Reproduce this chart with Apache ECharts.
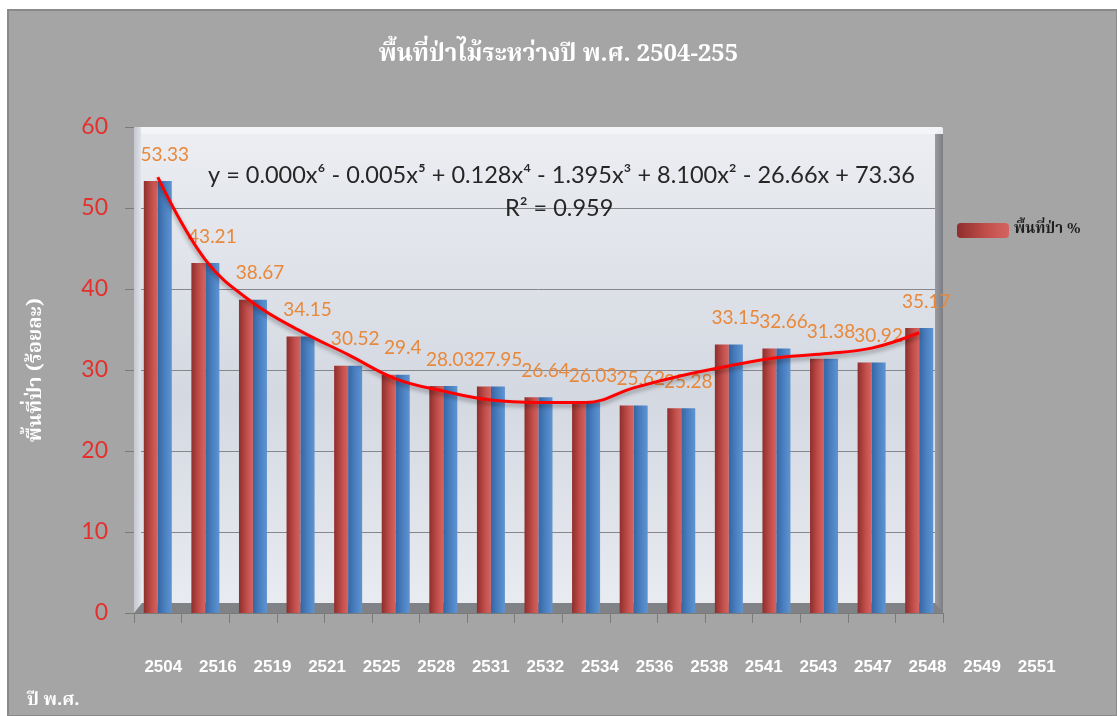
<!DOCTYPE html>
<html>
<head>
<meta charset="utf-8">
<script src="https://cdn.jsdelivr.net/npm/echarts@6/dist/echarts.min.js"></script>
<style>
  html, body { margin: 0; padding: 0; background: #ffffff; }
  #chart { width: 1117px; height: 716px; }
</style>
</head>
<body>
<div id="chart"></div>
<script>
// Forest area (% of country) by Buddhist-era year
const years = ['2504', '2516', '2519', '2521', '2525', '2528', '2531', '2532', '2534',
               '2536', '2538', '2541', '2543', '2547', '2548', '2549', '2551'];
const forestPct = [53.33, 43.21, 38.67, 34.15, 30.52, 29.4, 28.03, 27.95, 26.64,
                   26.03, 25.62, 25.28, 33.15, 32.66, 31.38, 30.92, 35.17];
// Polynomial trend line, read at each category
const trendPct = [53.8, 43.6, 38.3, 34.8, 31.9, 28.9, 27.4, 26.3, 26.0,
                  26.0, 27.8, 29.3, 30.5, 31.5, 32.0, 32.7, 34.6];
const yTicks = { min: 0, max: 60, interval: 10 };

const titleText = 'พื้นที่ป่าไม้ระหว่างปี พ.ศ. 2504-255';
const seriesName = 'พื้นที่ป่า %';
const yName = 'พื้นที่ป่า (ร้อยละ)';
const xName = 'ปี พ.ศ.';

const thaiFont = '"Noto Serif Thai", "Noto Sans Thai", "DejaVu Serif", serif';
const numFont = 'Lato, "Open Sans", sans-serif';

const chart = echarts.init(document.getElementById('chart'), null, { renderer: 'canvas' });

const redFace = new echarts.graphic.LinearGradient(0, 0, 1, 0, [
  { offset: 0, color: '#8e2e2c' }, { offset: 0.6, color: '#c4504c' }, { offset: 1, color: '#d46460' }
]);
const blueFace = new echarts.graphic.LinearGradient(0, 0, 1, 0, [
  { offset: 0, color: '#3566a4' }, { offset: 0.6, color: '#4f84c4' }, { offset: 1, color: '#5f94d2' }
]);

chart.setOption({
  backgroundColor: '#ffffff',
  animation: false,
  graphic: [
    // outer panel
    { type: 'rect', z: -100, shape: { x: 8, y: 10, width: 1109, height: 706 },
      style: { fill: '#a5a5a5', stroke: '#8a8a8a', lineWidth: 2 } },
    // right depth side of the wall
    { type: 'rect', z: 1, shape: { x: 935, y: 134, width: 8, height: 479 },
      style: { fill: new echarts.graphic.LinearGradient(0, 0, 1, 0, [
        { offset: 0, color: '#9a9ca2' }, { offset: 1, color: '#7c7e84' }]) } },
    // top bevel of the wall
    { type: 'polygon', z: 1, shape: { points: [[134, 127], [943, 127], [935, 134], [142, 134]] },
      style: { fill: '#f4f5f8' } },
    // left bevel of the wall
    { type: 'rect', z: 1, shape: { x: 134, y: 127, width: 7, height: 486 },
      style: { fill: new echarts.graphic.LinearGradient(0, 0, 1, 0, [
        { offset: 0, color: '#c4c7cd' }, { offset: 1, color: '#dfe2e8' }]) } },
    // floor
    { type: 'polygon', z: 1, shape: { points: [[134, 613], [943, 613], [935, 603], [142, 603]] },
      style: { fill: '#808285' } },
    // trend equation
    { type: 'text', z: 20, left: 208, top: 163,
      style: { text: 'y = 0.000x⁶ - 0.005x⁵ + 0.128x⁴ - 1.395x³ + 8.100x² - 26.66x + 73.36',
               font: '23.5px ' + numFont, fill: '#262626' } },
    { type: 'text', z: 20, left: 505, top: 196,
      style: { text: 'R² = 0.959', font: '23.5px ' + numFont, fill: '#262626' } },
    // x axis title
    { type: 'text', z: 20, left: 27, top: 693,
      style: { text: xName, font: 'bold 18px ' + thaiFont, fill: '#ffffff' } }
  ],
  title: {
    text: titleText,
    left: 'center',
    top: 40,
    textStyle: { color: '#ffffff', fontFamily: thaiFont, fontWeight: 'bold', fontSize: 24 }
  },
  legend: {
    data: [seriesName],
    left: 952,
    top: 218,
    itemWidth: 52,
    itemHeight: 15,
    itemGap: 6,
    textStyle: { color: '#1e1e1e', fontFamily: thaiFont, fontSize: 15, fontWeight: 'bold' }
  },
  grid: [
    { left: 134, right: 174, top: 127, bottom: 103, show: true, borderWidth: 0,
      backgroundColor: new echarts.graphic.LinearGradient(0, 0, 0, 1, [
        { offset: 0, color: '#eceef2' }, { offset: 0.55, color: '#d4d8e1' }, { offset: 1, color: '#e9ecf1' }]) },
    // year labels sit on a wider band below the floor
    { left: 136, right: 53, top: 127, bottom: 103 }
  ],
  xAxis: [
    { type: 'category', gridIndex: 0, data: years,
      axisLine: { show: true, lineStyle: { color: '#7a7a7a', width: 1 } },
      axisTick: { show: true, length: 10, lineStyle: { color: '#7a7a7a' } },
      axisLabel: { show: false } },
    { type: 'category', gridIndex: 1, data: years,
      axisLine: { show: false }, axisTick: { show: false },
      axisLabel: { show: true, margin: 46, color: '#ffffff', fontFamily: 'Liberation Sans, Arial, sans-serif',
                   fontWeight: 'bold', fontSize: 17, interval: 0 } }
  ],
  yAxis: [
    { type: 'value', gridIndex: 0, min: yTicks.min, max: yTicks.max, interval: yTicks.interval,
      name: yName, nameLocation: 'middle', nameGap: 86,
      nameTextStyle: { color: '#ffffff', fontFamily: thaiFont, fontWeight: 'bold', fontSize: 20 },
      axisLine: { show: false },
      axisTick: { show: true, length: 9, lineStyle: { color: '#7a7a7a' } },
      axisLabel: { color: '#e3302c', fontFamily: numFont, fontSize: 23, margin: 26 },
      splitLine: { show: true, lineStyle: { color: '#85878d', width: 1 } } },
    { type: 'value', gridIndex: 1, min: 0, max: 60, show: false }
  ],
  series: [
    { name: seriesName, type: 'bar', xAxisIndex: 0, yAxisIndex: 0, data: forestPct,
      barWidth: 14, barGap: '0%', z: 3,
      itemStyle: { color: redFace } },
    { name: 'side', type: 'bar', xAxisIndex: 0, yAxisIndex: 0, data: forestPct,
      barWidth: 14, barGap: '0%', z: 3,
      itemStyle: { color: blueFace },
      label: { show: true, position: 'top', distance: 5, offset: [0, -12],
               color: '#e8883a', fontFamily: numFont, fontSize: 19 } },
    { name: 'trend', type: 'line', xAxisIndex: 0, yAxisIndex: 0, data: trendPct,
      smooth: 0.4, symbol: 'none', z: 10,
      lineStyle: { color: '#ff0000', width: 3, shadowColor: 'rgba(0,0,0,0.35)', shadowBlur: 4, shadowOffsetY: 3 } }
  ]
});
</script>
</body>
</html>
